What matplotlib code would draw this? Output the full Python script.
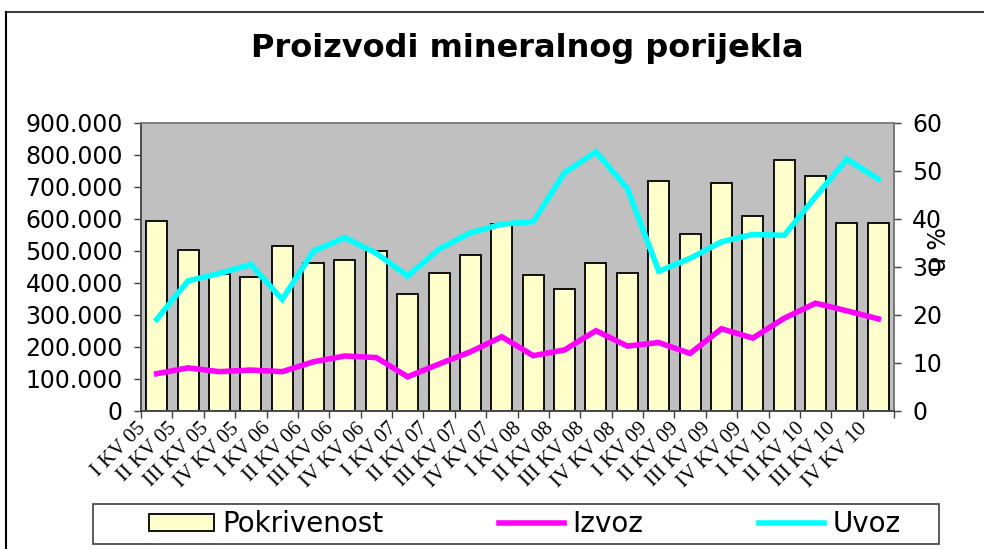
import matplotlib
matplotlib.use("Agg")
import matplotlib.pyplot as plt
import matplotlib.transforms as mtransforms
from matplotlib.lines import Line2D
from matplotlib.patches import Patch, Rectangle
from matplotlib.ticker import FuncFormatter, MultipleLocator
import numpy as np


quarters = [
    "I KV 05", "II KV 05", "III KV 05", "IV KV 05",
    "I KV 06", "II KV 06", "III KV 06", "IV KV 06",
    "I KV 07", "II KV 07", "III KV 07", "IV KV 07",
    "I KV 08", "II KV 08", "III KV 08", "IV KV 08",
    "I KV 09", "II KV 09", "III KV 09", "IV KV 09",
    "I KV 10", "II KV 10", "III KV 10", "IV KV 10",
]

# pokrivenost uvoza izvozom, u %
pokrivenost = [
    39.6, 33.5, 28.4, 27.9, 34.4, 30.8, 31.5, 33.2,
    24.3, 28.7, 32.4, 38.9, 28.3, 25.4, 30.7, 28.7,
    47.8, 36.8, 47.4, 40.5, 52.2, 49.0, 39.2, 39.2,
]

izvoz = [
    115600, 134000, 122000, 127000, 122000, 153000, 171000, 166000,
    106000, 146000, 184000, 231000, 172000, 190000, 250000, 202000,
    213000, 179000, 256000, 227000, 289000, 336000, 312000, 287000,
]

uvoz = [
    285600, 406000, 429000, 457000, 348000, 499000, 541000, 492000,
    421000, 505000, 556000, 583000, 591000, 744000, 809000, 695000,
    436000, 476000, 528000, 551000, 548000, 669000, 786000, 724000,
]


def thousands(v, pos):
    return f"{int(round(v)):,}".replace(",", ".")


fig = plt.figure(figsize=(9.84, 5.49), dpi=100)
W, H = 984, 549

# okvir slike (gore i lijevo)
fig.add_artist(Line2D([6 / W, 1], [1 - 12 / H, 1 - 12 / H], color="#404040", lw=1.5))
fig.add_artist(Line2D([6 / W, 6 / W], [0, 1 - 12 / H], color="black", lw=1.5))

ax = fig.add_axes([141 / W, 1 - 410.7 / H, 753 / W, 288 / H])
ax.set_facecolor("#C0C0C0")
x = np.arange(len(quarters))

# stupci na desnoj osi (%)
ax.bar(x, pokrivenost, width=0.67, color="#FFFFCC", edgecolor="black", linewidth=1.3, zorder=2)
ax.set_ylim(0, 60)
ax.set_xlim(-0.5, len(quarters) - 0.5)

# linije na lijevoj osi
ax2 = ax.twinx()
ax2.patch.set_visible(False)
ax2.plot(x, izvoz, color="#FF00FF", lw=4, solid_joinstyle="miter", zorder=3)
ax2.plot(x, uvoz, color="#00FFFF", lw=4, solid_joinstyle="miter", zorder=3)
ax2.set_ylim(0, 900000)

ax.yaxis.tick_right()
ax.yaxis.set_major_locator(MultipleLocator(10))
ax2.yaxis.tick_left()
ax2.yaxis.set_major_locator(MultipleLocator(100000))
ax2.yaxis.set_major_formatter(FuncFormatter(thousands))

for a in (ax, ax2):
    for side in ("top", "right", "left", "bottom"):
        a.spines[side].set_color("#808080")
        a.spines[side].set_linewidth(1.2)
ax2.spines["left"].set_color("#404040")
ax2.spines["bottom"].set_color("#404040")
ax.spines["right"].set_color("#404040")

ax.tick_params(axis="y", direction="out", length=5, width=1, color="#404040",
               labelsize=17, pad=8, labelcolor="black")
ax2.tick_params(axis="y", direction="out", length=5, width=1, color="#404040",
                labelsize=17, pad=8, labelcolor="black")

# oznake kategorija: crtice na granicama, tekst u sredini
ax.set_xticks(np.arange(len(quarters) + 1) - 0.5)
ax.set_xticklabels([])
ax.tick_params(axis="x", which="major", direction="out", length=5, width=1, color="#404040")
ax.set_xticks(x, minor=True)
ax.set_xticklabels(quarters, minor=True, rotation=45, ha="right", va="center",
                   rotation_mode="anchor", family="Liberation Serif", fontsize=15)
ax.tick_params(axis="x", which="minor", length=0, pad=11)
shift = mtransforms.ScaledTranslation(-10 / 72, 0, fig.dpi_scale_trans)
for lbl in ax.get_xticklabels(minor=True):
    lbl.set_transform(lbl.get_transform() + shift)

fig.text(527 / W, 1 - 48 / H, "Proizvodi mineralnog porijekla", ha="center", va="center",
         fontsize=23, fontweight="bold", family="DejaVu Sans")
fig.text(939 / W, 1 - 250 / H, "u %", rotation=90, ha="center", va="center", fontsize=17)

# legenda: okvir zasebno, sadržaj bez okvira
fig.add_artist(Rectangle((93 / W, 1 - 544 / H), 846 / W, 40 / H, transform=fig.transFigure,
                         facecolor="white", edgecolor="#404040", linewidth=1.2, zorder=1))
handles = [
    Patch(facecolor="#FFFFCC", edgecolor="black", linewidth=1.3, label="Pokrivenost"),
    Line2D([], [], color="#FF00FF", lw=4, label="Izvoz"),
    Line2D([], [], color="#00FFFF", lw=4, label="Uvoz"),
]
leg = fig.legend(handles=handles, loc="center left", ncol=3,
                 bbox_to_anchor=(149 / W, 1 - 524 / H), frameon=False,
                 borderpad=0, borderaxespad=0,
                 handlelength=2.35, handleheight=0.55, handletextpad=0.3,
                 columnspacing=4.15, prop={"size": 20, "family": "DejaVu Sans"})
leg.set_zorder(2)

fig.savefig("out.png", dpi=100)
